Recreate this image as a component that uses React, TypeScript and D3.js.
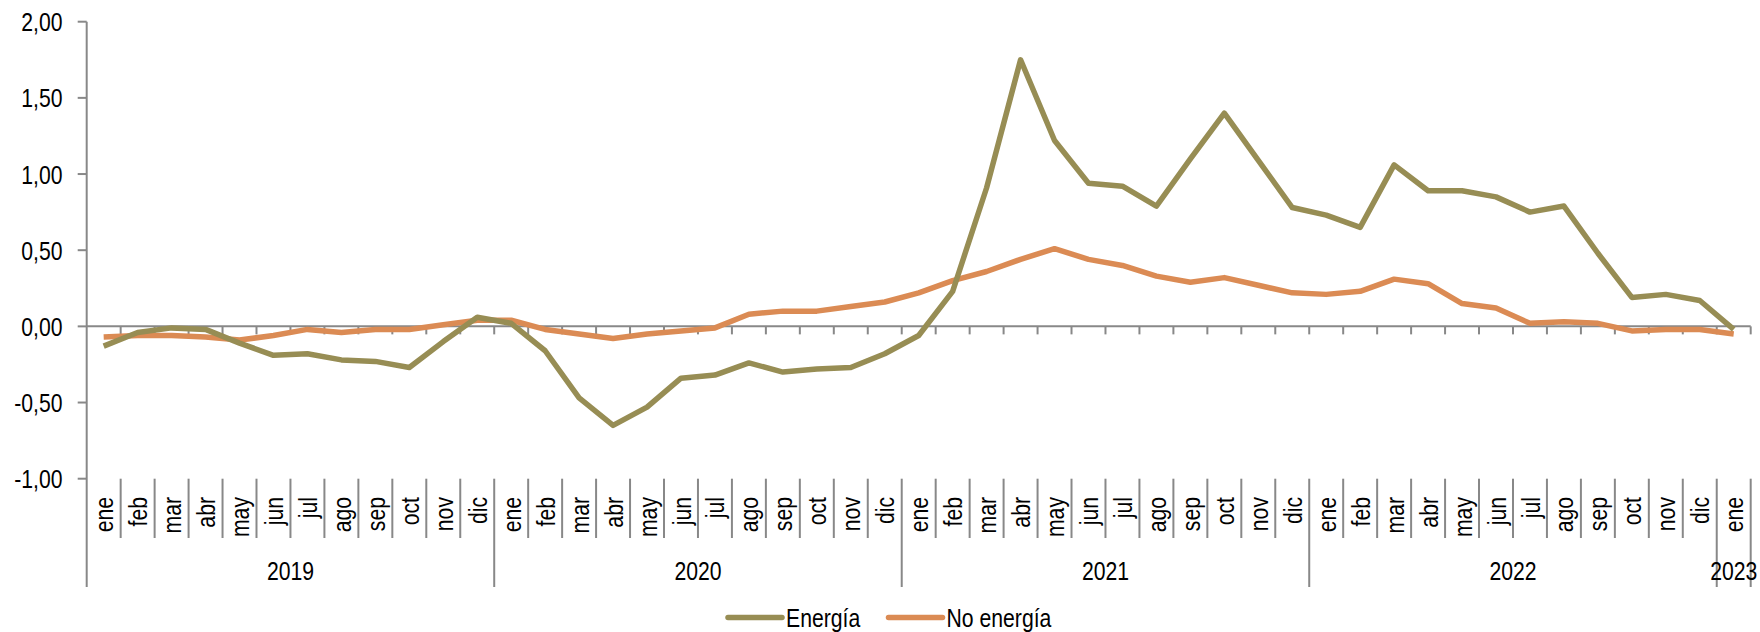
import React from "react";
import * as d3 from "d3";

const months = ["ene", "feb", "mar", "abr", "may", "jun", "jul", "ago", "sep", "oct", "nov", "dic"];
const years = ["2019", "2020", "2021", "2022", "2023"];
const categories: { m: string; y: string }[] = [];
years.forEach((y) => {
  const n = y === "2023" ? 1 : 12;
  for (let i = 0; i < n; i++) categories.push({ m: months[i], y });
});

const energia = [
  -0.13, -0.04, -0.01, -0.02, -0.11, -0.19, -0.18, -0.22, -0.23, -0.27, -0.1, 0.06,
  0.02, -0.16, -0.47, -0.65, -0.53, -0.34, -0.32, -0.24, -0.3, -0.28, -0.27, -0.18,
  -0.06, 0.23, 0.91, 1.75, 1.22, 0.94, 0.92, 0.79, 1.1, 1.4, 1.09, 0.78,
  0.73, 0.65, 1.06, 0.89, 0.89, 0.85, 0.75, 0.79, 0.48, 0.19, 0.21, 0.17,
  -0.02,
];
const noEnergia = [
  -0.07, -0.06, -0.06, -0.07, -0.09, -0.06, -0.02, -0.04, -0.02, -0.02, 0.01, 0.04,
  0.04, -0.02, -0.05, -0.08, -0.05, -0.03, -0.01, 0.08, 0.1, 0.1, 0.13, 0.16,
  0.22, 0.3, 0.36, 0.44, 0.51, 0.44, 0.4, 0.33, 0.29, 0.32, 0.27, 0.22,
  0.21, 0.23, 0.31, 0.28, 0.15, 0.12, 0.02, 0.03, 0.02, -0.03, -0.02, -0.02,
  -0.05,
];
const yTicks = [-1, -0.5, 0, 0.5, 1, 1.5, 2];
const seriesNames = ["Energía", "No energía"];
const colors = ["#978D54", "#DB8B54"];

const W = 1760;
const H = 632;
const FONT = "'Liberation Sans', Arial, sans-serif";
const FS = 26.5;
const SX = 0.8;
const AXIS = "#888888";

export default function App() {
  const left = 86.7;
  const right = 1750.7;
  const x = d3.scaleBand<number>().domain(d3.range(categories.length)).range([left, right]).padding(0);
  const y = d3.scaleLinear().domain([-1, 2]).range([478.7, 21.7]);
  const bw = x.bandwidth();
  const cx = (i: number) => (x(i) as number) + bw / 2;
  const line = d3
    .line<number>()
    .x((_, i) => cx(i))
    .y((d) => y(d));
  const fmt = (v: number) => d3.format(".2f")(v).replace(".", ",").replace("−", "-");

  const y0 = y(0);
  const yBottom = y(-1);
  const monthSepBottom = 538;
  const yearSepBottom = 587;

  const yearGroups = years.map((yr) => {
    const idx = categories.map((c, i) => (c.y === yr ? i : -1)).filter((i) => i >= 0);
    const x0 = x(idx[0]) as number;
    const x1 = (x(idx[idx.length - 1]) as number) + bw;
    return { yr, x0, x1 };
  });

  return (
    <svg
      width={W}
      height={H}
      style={{ position: "absolute", left: 0, top: 0, background: "#fff" }}
      fontFamily={FONT}
    >
      {/* y axis */}
      <line x1={left} x2={left} y1={y(2)} y2={yearSepBottom} stroke={AXIS} strokeWidth={2} />
      {yTicks.map((t) => (
        <g key={t}>
          <line x1={left - 9} x2={left} y1={y(t)} y2={y(t)} stroke={AXIS} strokeWidth={2} />
          <text
            transform={`translate(62.5,${y(t)}) scale(${SX},1)`}
            dy="0.36em"
            textAnchor="end"
            fontSize={FS}
            fill="#000"
          >
            {fmt(t)}
          </text>
        </g>
      ))}
      {/* zero category axis */}
      <line x1={left} x2={right} y1={y0} y2={y0} stroke={AXIS} strokeWidth={2} />
      {categories.map((_, i) => (
        <line
          key={"zt" + i}
          x1={(x(i) as number) + bw}
          x2={(x(i) as number) + bw}
          y1={y0}
          y2={y0 + 8}
          stroke={AXIS}
          strokeWidth={2}
        />
      ))}
      {/* month label separators */}
      {categories.map((c, i) => {
        const xe = (x(i) as number) + bw;
        const isYearEnd = i === categories.length - 1 || categories[i + 1].y !== c.y;
        return (
          <line
            key={"ms" + i}
            x1={xe}
            x2={xe}
            y1={yBottom}
            y2={isYearEnd ? yearSepBottom : monthSepBottom}
            stroke={AXIS}
            strokeWidth={2}
          />
        );
      })}
      {/* month labels */}
      {categories.map((c, i) => (
        <text
          key={"ml" + i}
          transform={`translate(${cx(i)},497) rotate(-90) scale(${SX},1)`}
          dy="0.36em"
          textAnchor="end"
          fontSize={FS}
          fill="#000"
        >
          {c.m}
        </text>
      ))}
      {/* year labels */}
      {yearGroups.map((g) => (
        <text
          key={g.yr}
          transform={`translate(${(g.x0 + g.x1) / 2},580) scale(${SX},1)`}
          textAnchor="middle"
          fontSize={FS}
          fill="#000"
        >
          {g.yr}
        </text>
      ))}
      {/* series */}
      <path d={line(noEnergia) || ""} fill="none" stroke={colors[1]} strokeWidth={5.5} strokeLinejoin="round" />
      <path d={line(energia) || ""} fill="none" stroke={colors[0]} strokeWidth={5.5} strokeLinejoin="round" />
      {/* legend */}
      {[
        { name: seriesNames[0], color: colors[0], x0: 728 },
        { name: seriesNames[1], color: colors[1], x0: 888.5 },
      ].map((l) => (
        <g key={l.name}>
          <line x1={l.x0} x2={l.x0 + 54} y1={617.5} y2={617.5} stroke={l.color} strokeWidth={5.5} strokeLinecap="round" />
          <text
            transform={`translate(${l.x0 + 58},617.5) scale(${SX},1)`}
            dy="0.36em"
            fontSize={FS}
            fill="#000"
          >
            {l.name}
          </text>
        </g>
      ))}
    </svg>
  );
}
